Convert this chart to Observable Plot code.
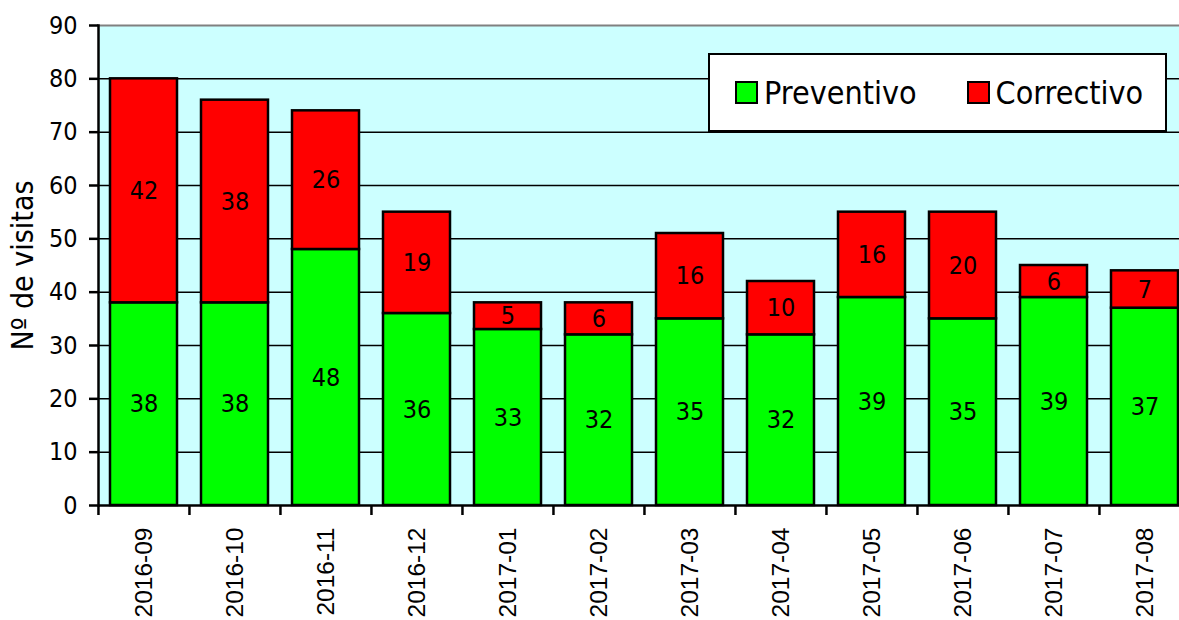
<!DOCTYPE html>
<html><head><meta charset="utf-8">
<script src="https://cdn.jsdelivr.net/npm/d3@7"></script>
<script src="https://cdn.jsdelivr.net/npm/@observablehq/plot@0.6"></script>
<style>
html,body{margin:0;padding:0;overflow:hidden;background:#fff;width:1179px;height:620px;}
#wrap{position:relative;width:1179px;height:620px;overflow:hidden;}
#wrap svg{position:absolute;left:0;top:0;max-width:none !important;width:1191px !important;height:620px !important;}
#legend{position:absolute;left:708px;top:53px;width:455px;height:75px;background:#fff;border:2px solid #000;
  display:flex;align-items:center;font-family:"DejaVu Sans Condensed","DejaVu Sans",sans-serif;font-stretch:condensed;font-size:32px;color:#000;}
#legend .sw{width:19px;height:19px;border:2px solid #000;margin-right:6px;}
</style>
</head><body>
<div id="wrap"></div>
<script>
const months = ["2016-09","2016-10","2016-11","2016-12","2017-01","2017-02","2017-03","2017-04","2017-05","2017-06","2017-07","2017-08"];
const preventivo = [38,38,48,36,33,32,35,32,39,35,39,37];
const correctivo = [42,38,26,19,5,6,16,10,16,20,6,7];
const types = ["Preventivo","Correctivo"];
const colors = ["#00FF00","#FF0000"];
const yTicks = [0,10,20,30,40,50,60,70,80,90];
const yTitle = "Nº de visitas";

const data = months.flatMap((m,i)=>[
  {month:m,type:"Preventivo",value:preventivo[i]},
  {month:m,type:"Correctivo",value:correctivo[i]}
]);

const tahoma = "'DejaVu Sans Condensed','DejaVu Sans',sans-serif";
const W = 1191, ML = 98;
const step = (W - ML) / months.length;

const chart = Plot.plot({
  width: W, height: 620,
  marginLeft: ML, marginRight: 0, marginTop: 25, marginBottom: 115,
  style: {fontFamily: tahoma, background: "transparent", fontStretch: "condensed"},
  x: {domain: months, paddingInner: 0.26, paddingOuter: 0.13, label: null},
  y: {domain: [0, 90], label: null},
  color: {domain: types, range: colors},
  marks: [
    Plot.frame({fill: "#CCFFFF", stroke: null}),
    Plot.ruleY(yTicks.filter(d => d > 0 && d < 90), {stroke: "#000", strokeWidth: 1.5}),
    Plot.ruleY([90], {stroke: "#808080", strokeWidth: 2}),
    Plot.barY(data, {x: "month", y: "value", fill: "type", stroke: "#000", strokeWidth: 2.5}),
    Plot.text(data, Plot.stackY({x: "month", y: "value", z: "type", text: d => String(d.value),
      fontSize: 25, fill: "#000"})),
    Plot.axisY({ticks: yTicks, tickSize: 9, tickPadding: 12, fontSize: 25, strokeWidth: 2.5, label: null}),
    Plot.text([yTitle], {frameAnchor: "left", textAnchor: "middle", rotate: -90, dx: -75, fontSize: 30, fill: "#000"}),
    Plot.frame({anchor: "left", stroke: "#000", strokeWidth: 2.5}),
    Plot.ruleY([0], {stroke: "#000", strokeWidth: 2.5}),
    Plot.axisX({tickSize: 10, tickFormat: () => "", dx: -step / 2, strokeWidth: 2.5}),
    Plot.axisX({tickSize: 0, tickPadding: 22, tickRotate: -90, fontSize: 24.5,
      fontFamily: "'Liberation Sans',Arial,sans-serif", fontStretch: "normal"})
  ]
});
const wrap = document.getElementById("wrap");
wrap.appendChild(chart);

const legend = document.createElement("div");
legend.id = "legend";
types.forEach((t, i) => {
  const sw = document.createElement("span");
  sw.className = "sw";
  sw.style.background = colors[i];
  sw.style.marginLeft = i === 0 ? "25px" : "50px";
  const lab = document.createElement("span");
  lab.textContent = t;
  legend.appendChild(sw);
  legend.appendChild(lab);
});
wrap.appendChild(legend);
</script>
</body></html>
